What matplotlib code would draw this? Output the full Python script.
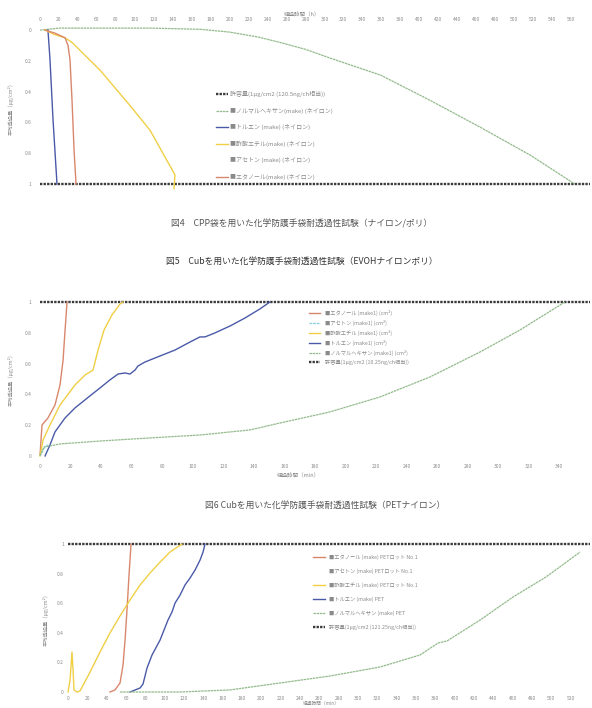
import matplotlib
matplotlib.use("Agg")
import matplotlib.pyplot as plt

plt.rcParams['font.family'] = ['Noto Sans CJK JP', 'DejaVu Sans']

# --- colours of the scan ---
c_eth = "#d9876c"
c_ace = "#8fd0e0"
c_ea = "#f0cf45"
c_tol = "#4a5aa8"
c_hex = "#93bb8c"
c_lim = "#3a3a3a"
c_txt = "#8a8a8a"

# --- 図4 (flipped chart, y inverted) ---
f4_hex_x = [0, 21, 63, 116, 169, 200, 230, 253, 280, 306, 359, 411, 464, 517, 564]
f4_hex_y = [0, -0.013, -0.013, -0.013, -0.005, 0.013, 0.045, 0.080, 0.125, 0.182, 0.292, 0.455, 0.630, 0.812, 1.0]
f4_tol_x = [8.4, 10.5, 13.7, 17.9]
f4_tol_y = [0, 0.19, 0.58, 1.0]
f4_eth_x = [5.3, 15.8, 26.4, 29.5, 31.6, 33.7, 35.9, 38.0]
f4_eth_y = [0, 0.02, 0.05, 0.10, 0.19, 0.45, 0.78, 1.0]
f4_ea_x = [5.3, 15.8, 26.4, 33.7, 63.3, 94.9, 116.0, 142.3, 141.3]
f4_ea_y = [0, 0.03, 0.05, 0.08, 0.26, 0.49, 0.65, 0.94, 1.03]
f4_labels = ["許容量(1μg/cm2 (120.5ng/ch相当))",
             "■ノルマルヘキサン(make) (ネイロン)",
             "■トルエン (make) (ネイロン)",
             "■酢酸エチル(make) (ネイロン)",
             "■アセトン (make) (ネイロン)",
             "■エタノール(make) (ネイロン)"]

# --- 図5 ---
f5_eth_x = [0, 1.3, 5.2, 9.8, 13.1, 15.1, 16.4, 17.7]
f5_eth_y = [0.006, 0.201, 0.247, 0.331, 0.461, 0.623, 0.818, 1.0]
f5_ace_x = [0, 2.6, 5.0, 6.5]
f5_ace_y = [0, 0.05, 0.07, 0.06]
f5_ea_x = [0, 2.0, 6.5, 13.1, 22.9, 29.5, 34.7, 38.0, 41.9, 47.1, 52.4, 54.3]
f5_ea_y = [0, 0.104, 0.201, 0.331, 0.461, 0.526, 0.558, 0.688, 0.818, 0.916, 0.987, 1.0]
f5_tol_x = [3.3, 6.5, 9.8, 16.4, 22.9, 32.7, 39.3, 45.8, 51.1, 55.6, 58.9, 62.2,
            64.1, 68.7, 78.5, 88.4, 98.2, 104.7, 108.0, 114.5, 124.4, 134.2, 144.0, 150.5]
f5_tol_y = [0, 0.071, 0.156, 0.247, 0.312, 0.390, 0.442, 0.494, 0.532, 0.539, 0.532, 0.558,
            0.584, 0.610, 0.649, 0.688, 0.740, 0.773, 0.773, 0.799, 0.844, 0.896, 0.955, 1.0]
f5_hex_x = [0, 2.6, 13.1, 39.3, 72.0, 104.7, 137.4, 157.1, 189.8, 222.5, 255.3, 288.0, 314.2, 343.6]
f5_hex_y = [0, 0.058, 0.078, 0.097, 0.117, 0.136, 0.169, 0.214, 0.286, 0.383, 0.513, 0.675, 0.818, 1.0]
f5_labels = ["■エタノール (make1) (cm²)",
             "■アセトン (make1) (cm²)",
             "■酢酸エチル (make1) (cm²)",
             "■トルエン (make1) (cm²)",
             "■ノルマルヘキサン (make1) (cm²)",
             "許容量(1μg/cm2 (10.25ng/ch相当))"]

# --- 図6 ---
f6_ea_x = [0, 2.1, 4.1, 5.2, 6.2, 9.3, 12.4, 22.8, 33.1, 43.4, 53.8, 64.1, 74.5, 84.8, 95.2, 105.5, 117.9]
f6_ea_y = [0, 0.081, 0.270, 0.149, 0.014, 0, 0.007, 0.135, 0.270, 0.399, 0.514, 0.622, 0.723, 0.804, 0.878, 0.946, 1.0]
f6_eth_x = [43.4, 48.6, 53.8, 56.9, 59.0, 61.0, 63.1, 65.2]
f6_eth_y = [0, 0.014, 0.061, 0.182, 0.351, 0.554, 0.791, 1.0]
f6_tol_x = [64.1, 74.5, 77.6, 81.7, 86.9, 95.2, 103.4, 107.6, 110.7, 115.9, 121.0, 126.2, 131.4, 136.6, 139.7, 141.7]
f6_tol_y = [0, 0.027, 0.054, 0.162, 0.250, 0.351, 0.486, 0.541, 0.601, 0.655, 0.723, 0.770, 0.824, 0.892, 0.946, 1.0]
f6_hex_x = [53.8, 115.9, 167.6, 219.3, 271.0, 322.8, 364.1, 382.8, 392.1, 426.2, 460.3, 494.4, 529.7]
f6_hex_y = [0, 0, 0.014, 0.061, 0.108, 0.169, 0.250, 0.331, 0.345, 0.486, 0.642, 0.777, 0.946]
f6_labels = ["■エタノール (make) PETロット No.1",
             "■アセトン (make) PETロット No.1",
             "■酢酸エチル (make) PETロット No.1",
             "■トルエン (make) PET",
             "■ノルマルヘキサン (make) PET",
             "許容量(1μg/cm2 (121.25ng/ch相当))"]

y_ticks = [0, 0.2, 0.4, 0.6, 0.8, 1]
y_ticklabels = ["0", "0.2", "0.4", "0.6", "0.8", "1"]

lim_style = (0, (1, 0.5))


def style_axes(ax, xmax, top=False, pad=6):
    for s in ax.spines.values():
        s.set_visible(False)
    ax.set_xlim(0, xmax)
    ax.set_ylim(0, 1)
    # last tick sits on the figure edge, so it is left out
    ax.set_xticks(range(0, xmax, 20))
    ax.set_xticklabels([str(v) for v in range(0, xmax, 20)])
    ax.set_yticks(y_ticks)
    ax.set_yticklabels(y_ticklabels)
    ax.tick_params(length=0, labelsize=3.5, labelcolor=c_txt, pad=pad)
    if top:
        ax.xaxis.tick_top()


fig = plt.figure(figsize=(5.92, 7.08), dpi=100)

# ---------- 図4 ----------
ax1 = fig.add_axes([0.0676, 0.740, 0.929, 0.2175])
style_axes(ax1, 580, top=True)
ax1.invert_yaxis()
lim1, = ax1.plot([0, 580], [1, 1], ls=lim_style, lw=1.7, color=c_lim, clip_on=False)
h1, = ax1.plot(f4_hex_x, f4_hex_y, color=c_hex, lw=0.9, ls=(0, (2, 0.5)), clip_on=False)
t1, = ax1.plot(f4_tol_x, f4_tol_y, color=c_tol, lw=1.0, clip_on=False)
e1, = ax1.plot(f4_ea_x, f4_ea_y, color=c_ea, lw=1.0, clip_on=False)
a1, = ax1.plot([], [], color="none")
n1, = ax1.plot(f4_eth_x, f4_eth_y, color=c_eth, lw=1.0, clip_on=False)
ax1.legend([lim1, h1, t1, e1, a1, n1], f4_labels, loc="upper left",
           bbox_to_anchor=(0.31, 0.64), frameon=False, fontsize=4.3,
           labelcolor=c_txt, handlelength=2.0, handletextpad=0.4, labelspacing=1.75)
ax1.set_ylabel("平均透過量（μg/cm²）", fontsize=3.8, color=c_txt, labelpad=8)
fig.text(0.51, 0.979, "経過時間（h）", fontsize=4, color=c_txt, ha="center")

fig.text(0.51, 1 - 227 / 708, "図4　CPP袋を用いた化学防護手袋耐透過性試験（ナイロン/ポリ）",
         fontsize=6.3, color="#555555", ha="center")
fig.text(0.51, 1 - 264 / 708, "図5　Cubを用いた化学防護手袋耐透過性試験（EVOHナイロンポリ）",
         fontsize=6.3, color="#333333", ha="center")

# ---------- 図5 ----------
ax2 = fig.add_axes([0.0676, 0.356, 0.929, 0.2175])
style_axes(ax2, 360)
lim2, = ax2.plot([0, 360], [1, 1], ls=lim_style, lw=1.7, color=c_lim, clip_on=False)
n2, = ax2.plot(f5_eth_x, f5_eth_y, color=c_eth, lw=1.0, clip_on=False)
a2, = ax2.plot(f5_ace_x, f5_ace_y, color=c_ace, lw=1.0, ls=(0, (2, 0.6)), clip_on=False)
e2, = ax2.plot(f5_ea_x, f5_ea_y, color=c_ea, lw=1.0, clip_on=False)
t2, = ax2.plot(f5_tol_x, f5_tol_y, color=c_tol, lw=1.0, clip_on=False)
h2, = ax2.plot(f5_hex_x, f5_hex_y, color=c_hex, lw=0.9, ls=(0, (2, 0.5)), clip_on=False)
ax2.legend([n2, a2, e2, t2, h2, lim2], f5_labels, loc="upper left",
           bbox_to_anchor=(0.48, 0.98), frameon=False, fontsize=3.8,
           labelcolor=c_txt, handlelength=2.2, labelspacing=0.75)
ax2.set_ylabel("平均透過量（μg/cm²）", fontsize=3.8, color=c_txt, labelpad=8)
ax2.text(0.47, -0.1, "経過時間（min）", transform=ax2.transAxes,
         fontsize=4, color=c_txt, ha="center", va="top")

fig.text(0.55, 1 - 508 / 708, "図6 Cubを用いた化学防護手袋耐透過性試験（PETナイロン）",
         fontsize=6.3, color="#555555", ha="center")

# ---------- 図6 ----------
ax3 = fig.add_axes([0.1149, 0.0226, 0.8818, 0.209])
style_axes(ax3, 540, pad=3)
lim3, = ax3.plot([0, 540], [1, 1], ls=lim_style, lw=1.7, color=c_lim, clip_on=False)
n3, = ax3.plot(f6_eth_x, f6_eth_y, color=c_eth, lw=1.0, clip_on=False)
a3, = ax3.plot([], [], color="none")
e3, = ax3.plot(f6_ea_x, f6_ea_y, color=c_ea, lw=1.0, clip_on=False)
t3, = ax3.plot(f6_tol_x, f6_tol_y, color=c_tol, lw=1.0, clip_on=False)
h3, = ax3.plot(f6_hex_x, f6_hex_y, color=c_hex, lw=0.9, ls=(0, (2, 0.5)), clip_on=False)
ax3.legend([n3, a3, e3, t3, h3, lim3], f6_labels, loc="upper left",
           bbox_to_anchor=(0.46, 0.96), frameon=False, fontsize=3.8,
           labelcolor=c_txt, handlelength=2.2, labelspacing=1.6)
ax3.set_ylabel("平均透過量（μg/cm²）", fontsize=3.8, color=c_txt, labelpad=6)
ax3.text(0.45, -0.055, "経過時間（min）", transform=ax3.transAxes,
         fontsize=3.4, color=c_txt, ha="left", va="top")

fig.savefig("out.png", dpi=100, facecolor="white")
